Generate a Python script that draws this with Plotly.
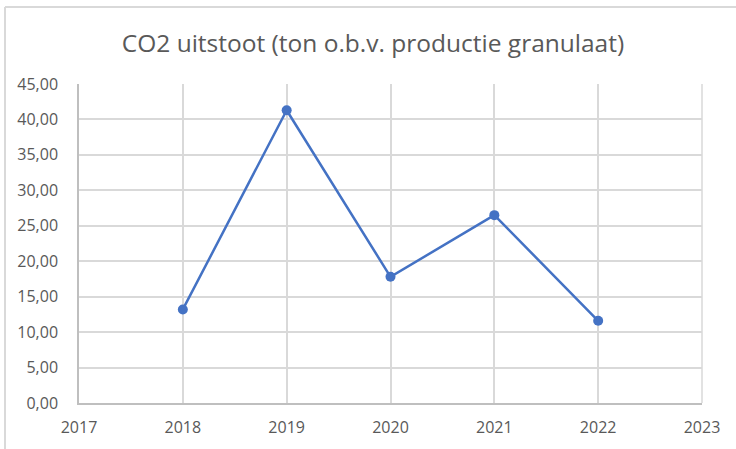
import plotly.graph_objects as go

years = [2018, 2019, 2020, 2021, 2022]
co2 = [13.2, 41.3, 17.8, 26.5, 11.6]
title = "CO2 uitstoot (ton o.b.v. productie granulaat)"

W, H = 736, 449
ml, mr, mt, mb = 79, 34, 84, 46
pw, ph = W - ml - mr, H - mt - mb

def px_x(px):
    return (px - ml) / pw

def px_y(py):
    return (H - mb - py) / ph

fig = go.Figure()
fig.add_trace(go.Scatter(
    x=years, y=co2, mode="lines+markers",
    line=dict(color="#4472C4", width=2.5),
    marker=dict(color="#4472C4", size=10),
    showlegend=False, cliponaxis=False,
))

font = "'Open Sans', Lato, sans-serif"
fig.update_layout(
    width=W, height=H,
    margin=dict(l=ml, r=mr, t=mt, b=mb),
    paper_bgcolor="white", plot_bgcolor="white",
    separators=",.",
    font=dict(family=font, color="#595959", size=16),
    title=dict(text=title, x=373 / W, xanchor="center", xref="container",
               y=1 - 43 / H, yanchor="middle",
               font=dict(size=24.5, color="#595959", family=font)),
    xaxis=dict(range=[2017, 2023], dtick=1, tick0=2017, showgrid=True,
               gridcolor="#d9d9d9", gridwidth=1.5, showline=True,
               linecolor="#bfbfbf", linewidth=1.5, zeroline=False,
               ticks="", ticklabelstandoff=9, mirror=False,
               tickfont=dict(size=16, color="#595959")),
    yaxis=dict(range=[0, 45], dtick=5, tick0=0, tickformat=".2f",
               showgrid=True, gridcolor="#d9d9d9", gridwidth=1.5,
               showline=True, linecolor="#bfbfbf", linewidth=1.5,
               zeroline=False, ticks="", ticklabelstandoff=16,
               tickfont=dict(size=16, color="#595959")),
    shapes=[
        dict(type="line", xref="paper", yref="paper",
             x0=px_x(5), x1=px_x(736), y0=px_y(7), y1=px_y(7),
             line=dict(color="#d9d9d9", width=2)),
        dict(type="line", xref="paper", yref="paper",
             x0=px_x(5), x1=px_x(5), y0=px_y(7), y1=px_y(449),
             line=dict(color="#d9d9d9", width=2)),
        dict(type="line", xref="paper", yref="paper",
             x0=1, x1=1, y0=0, y1=1, layer="below",
             line=dict(color="#d9d9d9", width=1.5)),
    ],
)
fig.write_html("out.html", config={"displayModeBar": False},
               post_script="document.body.style.margin='0';document.body.style.overflow='hidden';")
